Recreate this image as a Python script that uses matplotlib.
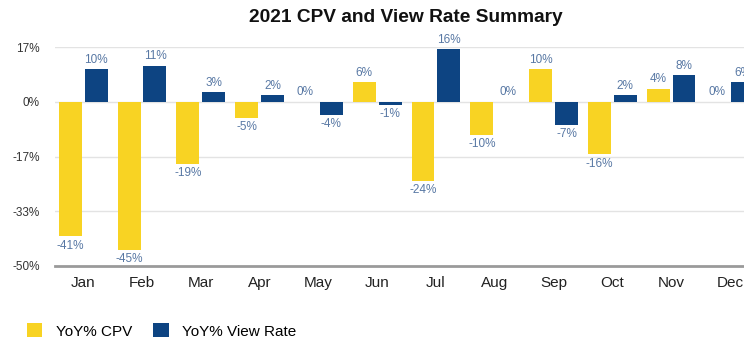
import numpy as np
import matplotlib.pyplot as plt

months = ["Jan", "Feb", "Mar", "Apr", "May", "Jun", "Jul", "Aug", "Sep", "Oct", "Nov", "Dec"]
cpv = [-41, -45, -19, -5, 0, 6, -24, -10, 10, -16, 4, 0]
view_rate = [10, 11, 3, 2, -4, -1, 16, 0, -7, 2, 8, 6]
yticks = [50 / 3, 0, -50 / 3, -100 / 3, -50]

plt.rcParams['font.family'] = ['Liberation Sans', 'DejaVu Sans']

yellow = '#F8D323'
navy = '#0D4482'
lbl_color = '#5878a4'

fig = plt.figure(figsize=(7.44, 3.42), dpi=100)
ax = fig.add_axes([55 / 744, 1 - 266 / 342, 1 - 55 / 744, (266 - 47) / 342])

x = np.arange(len(months))
w = 0.39
gap = 0.025
b1 = ax.bar(x - w / 2 - gap, cpv, w, color=yellow, label="YoY% CPV", zorder=3)
b2 = ax.bar(x + w / 2 + gap, view_rate, w, color=navy, label="YoY% View Rate", zorder=3)

# value labels above positive bars, below negative ones
for bars, vals in ((b1, cpv), (b2, view_rate)):
    for b, v in zip(bars, vals):
        cx = b.get_x() + b.get_width() / 2
        if v >= 0:
            ax.text(cx, v + 1.0, f"{v}%", ha='center', va='bottom', fontsize=8.5, color=lbl_color)
        else:
            ax.text(cx, v - 1.0, f"{v}%", ha='center', va='top', fontsize=8.5, color=lbl_color)

ax.set_xlim(-0.48, 11.24)
ax.set_ylim(-50, 50 / 3)
ax.set_yticks(yticks)
ax.set_yticklabels([f"{round(t)}%" for t in yticks], fontsize=8.5, color='#333333')
ax.set_xticks(x)
ax.set_xticklabels(months, fontsize=11, color='#222222')
ax.tick_params(axis='both', length=0)
ax.tick_params(axis='x', pad=7)
ax.tick_params(axis='y', pad=11)

for t in yticks[:-1]:
    ax.axhline(t, color='#e3e3e3', lw=1, zorder=1)
ax.axhline(-50, color='#9a9a9a', lw=2, zorder=4, clip_on=False)
for s in ax.spines.values():
    s.set_visible(False)

fig.text(406 / 744, 1 - 17 / 342, "2021 CPV and View Rate Summary", ha='center', va='center',
         fontsize=13.8, fontweight='bold', color='#111111')

fig.legend(handles=[b1, b2], loc='center left', bbox_to_anchor=(13 / 744, 1 - 331 / 342),
           ncol=2, frameon=False, fontsize=11, handlelength=1.0, handleheight=1.0,
           columnspacing=1.4, handletextpad=0.9)

fig.savefig("out.png", dpi=100, facecolor='white')
